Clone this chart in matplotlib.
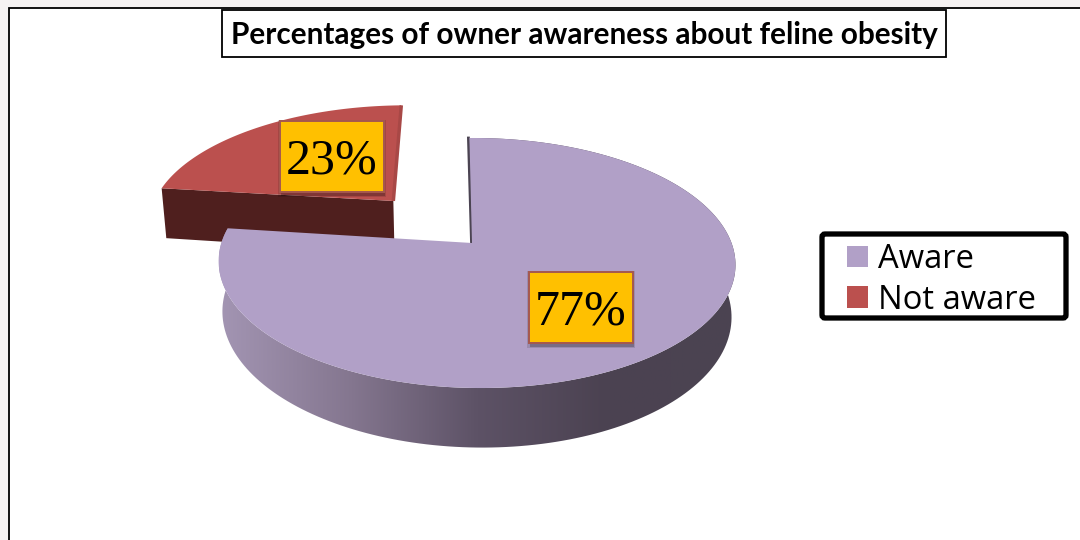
import numpy as np
import matplotlib
matplotlib.use("Agg")
import matplotlib.pyplot as plt
from matplotlib.colors import LinearSegmentedColormap
from matplotlib.patches import FancyBboxPatch, Patch, Polygon, Rectangle

categories = ["Aware", "Not aware"]
shares = [77, 23]
title = "Percentages of owner awareness about feline obesity"

top_colors = ["#B1A0C7", "#BB504E"]
side_red = "#4F1F1E"
wall_stops = ["#A395B3", "#857790", "#5D5266", "#4B4251", "#4B4452"]
label_boxes = [(529, 272), (280, 121)]

# projection of the pie's unit disc onto the page, in pixels
APEX = (472.0, 243.0)
SCALE_X, SCALE_Y, SKEW = 255.0, 121.8, -3.0
PERSP_V, PERSP_U = 0.16, 0.0174
TAPER = 0.985
EXPLODE = [0.0, 0.49]
RADIUS = [1.0, 1.02]
DEPTH = [50.0, 55.0]


def project(u, v):
    w = 1 + PERSP_V * v - PERSP_U * u
    x = APEX[0] + (SCALE_X * u + SKEW * v) / w
    y = APEX[1] - SCALE_Y * v / w
    return x, y, w


def lower(u, v, depth):
    x, y, w = project(u, v)
    return APEX[0] + (x - APEX[0]) * TAPER, y + depth / w


def slice_outline(start, stop, explode, radius):
    mid = np.radians((start + stop) / 2 * 3.6)
    cu, cv = explode * np.sin(mid), explode * np.cos(mid)
    t = np.radians(np.linspace(start, stop, 200) * 3.6)
    return cu, cv, cu + radius * np.sin(t), cv + radius * np.cos(t)


fig = plt.figure(figsize=(10.8, 5.4), dpi=100, facecolor="#F5F2F2")
ax = fig.add_axes([0, 0, 1, 1])
ax.set_xlim(0, 1080)
ax.set_ylim(540, 0)
ax.axis("off")

ax.add_patch(Rectangle((9, 8), 1075, 540, fc="white", ec="black", lw=1.3, zorder=0))

stops = np.cumsum([0] + shares)

# detached slice: cut face first, then its top
cu, cv, ru, rv = slice_outline(stops[1], stops[2], EXPLODE[1], RADIUS[1])
corner = (ru[0], rv[0])
face_top = [project(*corner)[:2], project(cu, cv)[:2]]
face_low = [lower(cu, cv, DEPTH[1]), lower(*corner, DEPTH[1])]
ax.add_patch(Polygon(face_top + face_low, fc=side_red, ec="none", zorder=1))
x, y, _ = project(ru, rv)
ax_x, ax_y, _ = project(cu, cv)
ax.add_patch(Polygon(np.column_stack([np.r_[ax_x, x], np.r_[ax_y, y]]),
                     fc=top_colors[1], ec="none", zorder=2))
ax.plot([ax_x, x[-1]], [ax_y, y[-1]], color="#A84846", lw=2.5, zorder=2.1,
        solid_capstyle="butt")

# main slice: shaded wall clipped to the rim, then the top
cu, cv, ru, rv = slice_outline(stops[0], stops[1], EXPLODE[0], RADIUS[0])
x, y, _ = project(ru, rv)
lx, ly = lower(ru, rv, DEPTH[0])
wall = Polygon(np.column_stack([np.r_[x, lx[::-1]], np.r_[y, ly[::-1]]]),
               fc="none", ec="none", zorder=3)
ax.add_patch(wall)
ramp = LinearSegmentedColormap.from_list("wall", wall_stops)
shade = ax.imshow(np.linspace(0, 1, 256)[None, :], cmap=ramp, aspect="auto",
                  extent=(x.min(), x.max(), ly.max(), y.min()), zorder=3)
shade.set_clip_path(wall)
ax.set_xlim(0, 1080)
ax.set_ylim(540, 0)
ax_x, ax_y, _ = project(cu, cv)
ax.plot([x[0] - 1, ax_x - 0.5], [y[0], ax_y], color="#4B4452", lw=2, zorder=3.5)
ax.add_patch(Polygon(np.column_stack([np.r_[ax_x, x], np.r_[ax_y, y]]),
                     fc=top_colors[0], ec="none", zorder=4))

# percentage labels
for share, (bx, by) in zip(shares, label_boxes):
    ax.add_patch(Rectangle((bx - 2, by - 1), 108, 77, fc="#000000", alpha=0.12,
                           ec="none", zorder=5))
    ax.add_patch(Rectangle((bx + 1, by + 3), 104, 72, fc="#000000", alpha=0.22,
                           ec="none", zorder=5))
    ax.add_patch(Rectangle((bx, by), 104, 71, fc="#FFC000", ec="#A5584F", lw=1.4,
                           zorder=6))
    ax.text(bx + 52, by + 40, f"{share}%", family="Liberation Serif", fontsize=36,
            ha="center", va="center", color="black", zorder=7)

# title box
ax.add_patch(Rectangle((222, 10), 724, 47, fc="white", ec="black", lw=1.3, zorder=8))
ax.text(584.5, 35, title, family="Lato", weight="bold", fontsize=21.4,
        ha="center", va="center", color="black", zorder=9)

# legend frame is drawn on its own so the inner padding can differ per side
ax.add_patch(FancyBboxPatch((822, 234), 244, 84,
                            boxstyle="round,pad=0,rounding_size=3",
                            fc="white", ec="black", lw=3.8, zorder=10))
handles = [Patch(fc=c, ec="none") for c in top_colors]
leg = ax.legend(handles, categories, loc="upper left", bbox_to_anchor=(847, 243),
                bbox_transform=ax.transData,
                prop={"family": "Open Sans", "size": 23.6},
                frameon=False, handlelength=0.64, handleheight=0.64,
                handletextpad=0.3, labelspacing=0.23, borderpad=0, borderaxespad=0)
leg.set_zorder(11)

fig.savefig("out.png", dpi=100, facecolor=fig.get_facecolor())
